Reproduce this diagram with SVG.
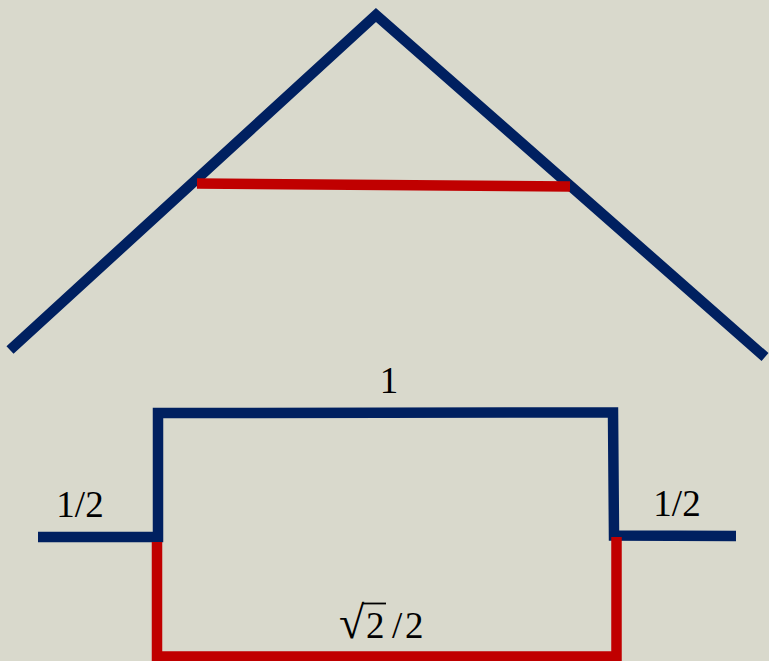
<svg xmlns="http://www.w3.org/2000/svg" width="769" height="661" viewBox="0 0 769 661">
<style>
.blue{fill:none;stroke:#002060;stroke-width:10.5;stroke-linejoin:miter;stroke-linecap:butt}
.red{fill:none;stroke:#C00000;stroke-width:10.5;stroke-linejoin:miter;stroke-linecap:butt}
.lbl{font-family:"Liberation Serif","Times New Roman",serif;font-size:37px;fill:#000}
</style>
<rect width="769" height="661" fill="#D9D9CC"/>
<g id="connectors">
<polyline id="roof" class="blue" points="10,350 376,15 765,357"/>
<line id="roof-tie" class="red" x1="197" y1="183.5" x2="570" y2="186.5"/>
<polyline id="frame" class="blue" points="38,537 158,537 158,413 613,412.5 614,535.5 736,536"/>
<polyline id="base" class="red" points="157,542 157,656.5 616.5,656.5 616.5,537"/>
</g>
<g id="label-top"><text class="lbl" x="389" y="393" text-anchor="middle">1</text></g>
<g id="label-left"><text class="lbl" x="80" y="517" text-anchor="middle">1/2</text></g>
<g id="label-right"><text class="lbl" x="677" y="516" text-anchor="middle">1/2</text></g>
<g id="label-bottom">
<text class="lbl" y="638"><tspan x="339" font-size="46">√</tspan><tspan x="366">2</tspan><tspan x="392">/</tspan><tspan x="405">2</tspan></text>
<line x1="362" y1="603.5" x2="386" y2="603.5" stroke="#000" stroke-width="1.8"/>
</g>
</svg>
